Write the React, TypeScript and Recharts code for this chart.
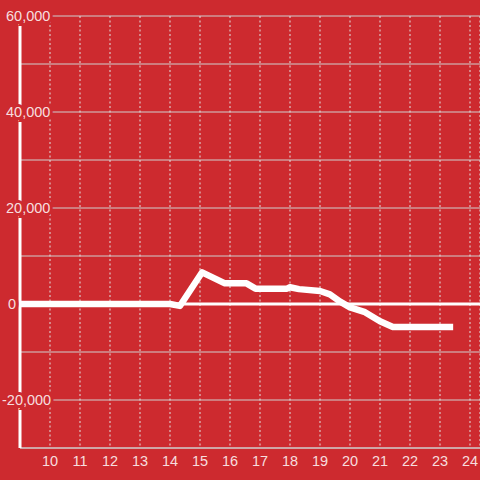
import React from 'react'
import { CartesianGrid, Line, LineChart, ReferenceLine, XAxis, YAxis } from 'recharts'

const hours = [9, 14, 14.33, 15.07, 15.83, 16.55, 16.85, 17.9, 18.0, 18.3, 19.0, 19.33, 19.67, 20.0, 20.5, 21.0, 21.43, 23.33]
const values = [0, 0, -400, 6600, 4300, 4300, 3200, 3200, 3500, 3100, 2700, 2000, 500, -700, -1700, -3600, -4800, -4800]

const xTicks = [10, 11, 12, 13, 14, 15, 16, 17, 18, 19, 20, 21, 22, 23, 24]
const yTicks = [-30000, -20000, -10000, 0, 10000, 20000, 30000, 40000, 50000, 60000]
const yLabels = [60000, 40000, 20000, 0, -20000]

const data = hours.map((h, i) => ({ h, v: values[i] }))

const BG = '#cd2a2f'
const TEXT = 'rgba(255,255,255,0.86)'
const FONT = '"Liberation Sans", Arial, sans-serif'

function YTick({ y, payload }: any) {
  const v = payload.value
  if (!yLabels.includes(v)) return <g />
  const x = v > 0 ? 6 : v < 0 ? 2 : 8
  return (
    <text
      x={x}
      y={y + 5}
      textAnchor='start'
      fill={TEXT}
      stroke={BG}
      strokeWidth={6}
      paintOrder='stroke'
      fontSize={14.5}
      fontFamily={FONT}
    >
      {v.toLocaleString('en-US')}
    </text>
  )
}

export default function App() {
  return (
    <div style={{ position: 'fixed', top: 0, left: 0, width: 480, height: 480, background: BG }}>
      <LineChart width={480} height={480} data={data} margin={{ top: 16, right: 0, bottom: 0, left: 0 }}>
        <CartesianGrid vertical={false} stroke='#cfcfcf' strokeWidth={1} />
        <CartesianGrid horizontal={false} stroke='#e2e2e2' strokeDasharray='2 2.5' strokeWidth={1} />
        <XAxis
          type='number'
          dataKey='h'
          domain={[9, 24.333]}
          ticks={xTicks}
          height={32}
          tickLine={false}
          axisLine={{ stroke: '#cfcfcf', strokeWidth: 1 }}
          tick={{ fill: TEXT, fontSize: 14.5, fontFamily: FONT }}
          allowDataOverflow
        />
        <YAxis
          type='number'
          domain={[-30000, 60000]}
          ticks={yTicks}
          width={20}
          tickLine={false}
          axisLine={{ stroke: '#ffffff', strokeWidth: 3 }}
          tick={<YTick />}
          interval={0}
        />
        <ReferenceLine y={0} stroke='#ffffff' strokeWidth={3} ifOverflow='extendDomain' />
        <Line
          type='linear'
          dataKey='v'
          stroke='#ffffff'
          strokeWidth={6.5}
          strokeLinejoin='round'
          strokeLinecap='square'
          dot={false}
          activeDot={false}
          isAnimationActive={false}
        />
      </LineChart>
    </div>
  )
}
